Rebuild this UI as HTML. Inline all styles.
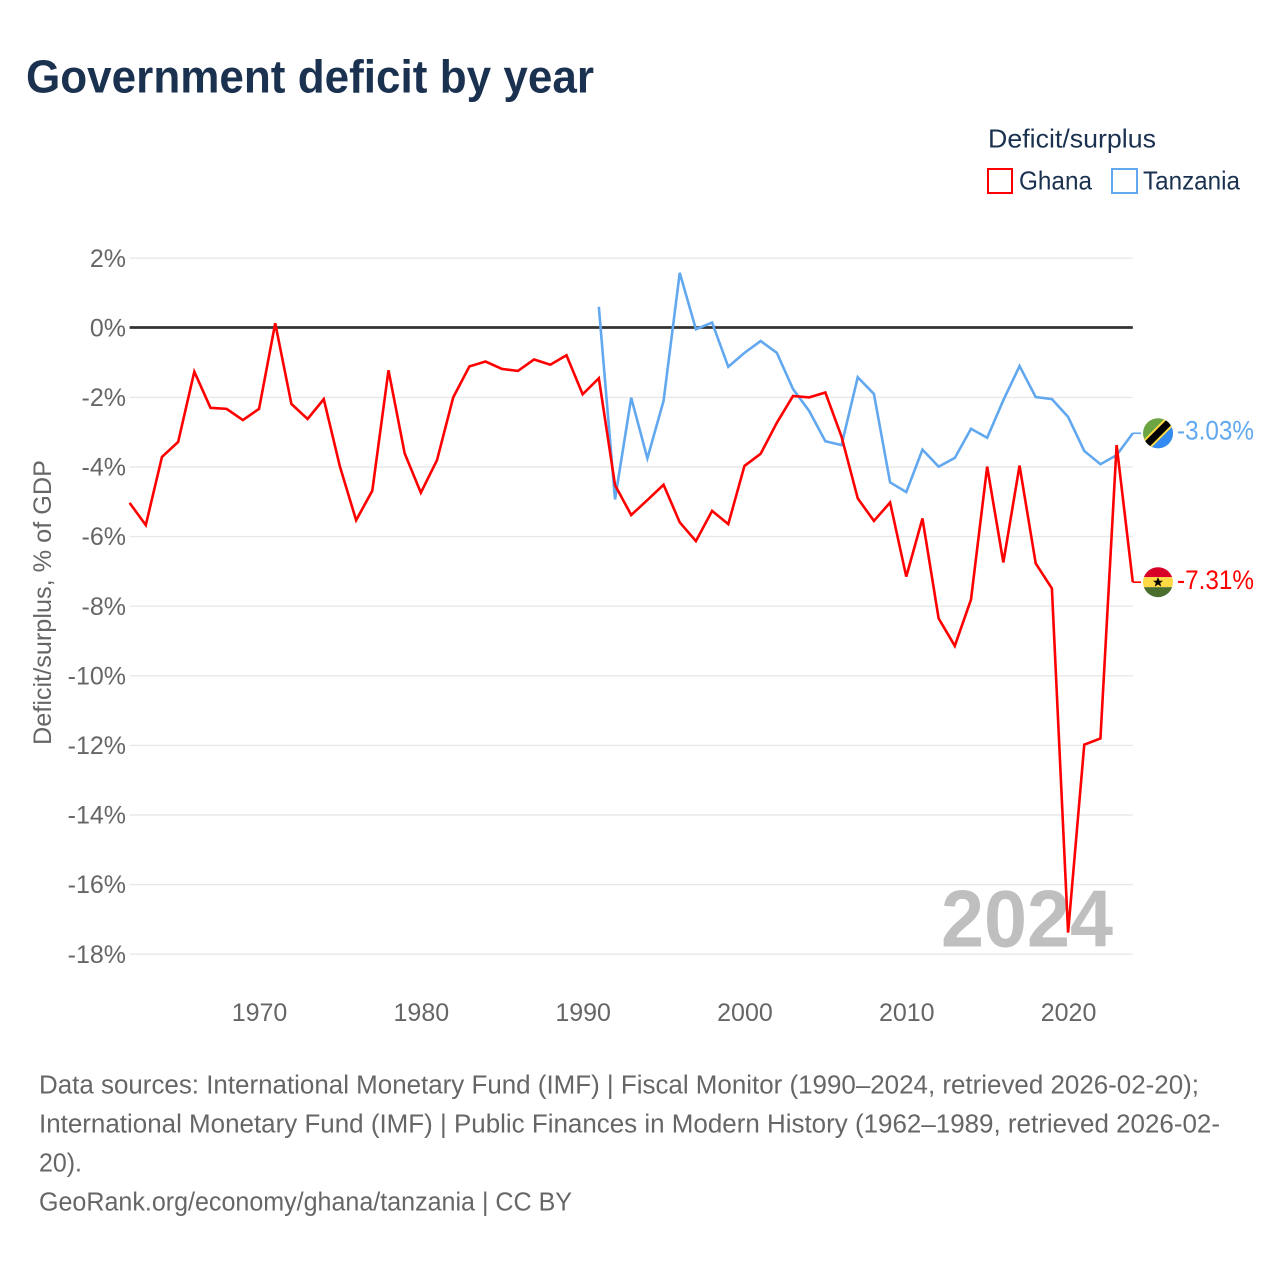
<!DOCTYPE html>
<html lang="en">
<head>
<meta charset="utf-8">
<title>Government deficit by year</title>
<style>
html,body{margin:0;padding:0;background:#fff;width:1280px;height:1280px;overflow:hidden}
svg{display:block;font-family:"Liberation Sans",sans-serif}
.tick{font-size:25px;fill:#666}
.foot{font-size:25.5px;fill:#666}
</style>
</head>
<body>
<svg id="chart" width="1280" height="1280" viewBox="0 0 1280 1280" xmlns="http://www.w3.org/2000/svg">
  <defs>
    <clipPath id="flag-clip"><circle cx="0" cy="0" r="15"/></clipPath>
  </defs>
  <rect x="0" y="0" width="1280" height="1280" fill="#fff"/>
  <text x="26" y="92.5" font-size="46" font-weight="700" fill="#1a3250" textLength="568" lengthAdjust="spacingAndGlyphs">Government deficit by year</text>

  <g>
    <text x="988" y="147.5" font-size="26" fill="#1a3250" textLength="168" lengthAdjust="spacingAndGlyphs">Deficit/surplus</text>
    <g>
      <rect x="988" y="169" width="24" height="24" fill="none" stroke="#ff0000" stroke-width="2"/>
      <text x="1019" y="189.5" font-size="26" fill="#1a3250" textLength="73" lengthAdjust="spacingAndGlyphs">Ghana</text>
    </g>
    <g>
      <rect x="1112" y="169" width="25" height="24" fill="none" stroke="#62a8ef" stroke-width="2"/>
      <text x="1143" y="189.5" font-size="26" fill="#1a3250" textLength="97" lengthAdjust="spacingAndGlyphs">Tanzania</text>
    </g>
  </g>

  <text transform="translate(51,745) rotate(-90)" font-size="25" fill="#666" textLength="285" lengthAdjust="spacingAndGlyphs">Deficit/surplus, % of GDP</text>

  <g id="grid"></g>
  <g id="yticks"></g>
  <g id="xticks"></g>

  <text x="941" y="946.5" font-size="81" font-weight="700" fill="#bfbfbf" textLength="172" lengthAdjust="spacingAndGlyphs">2024</text>

  <g id="zero"></g>
  <g id="series"></g>

  <g id="flag-tanzania">
    <g clip-path="url(#flag-clip)">
      <rect x="-16" y="-16" width="32" height="32" fill="#6da544"/>
      <polygon points="16,-16 16,16 -16,16" fill="#338af3"/>
      <line x1="-16" y1="16" x2="16" y2="-16" stroke="#ffda44" stroke-width="11"/>
      <line x1="-16" y1="16" x2="16" y2="-16" stroke="#000" stroke-width="7"/>
    </g>
  </g>
  <g id="flag-ghana">
    <g clip-path="url(#flag-clip)">
      <rect x="-16" y="-16" width="32" height="11" fill="#d80027"/>
      <rect x="-16" y="-5" width="32" height="10" fill="#ffda44"/>
      <rect x="-16" y="5" width="32" height="11" fill="#496e2d"/>
      <polygon points="0,-5 1.5,-1.5 5,-1.5 2.2,0.8 3.2,4.4 0,2.2 -3.2,4.4 -2.2,0.8 -5,-1.5 -1.5,-1.5" fill="#000"/>
    </g>
  </g>
  <g id="endlabels"></g>

  <g>
    <text class="foot" x="39" y="1093.5" textLength="1160" lengthAdjust="spacingAndGlyphs">Data sources: International Monetary Fund (IMF) | Fiscal Monitor (1990–2024, retrieved 2026-02-20);</text>
    <text class="foot" x="39" y="1132.5" textLength="1181" lengthAdjust="spacingAndGlyphs">International Monetary Fund (IMF) | Public Finances in Modern History (1962–1989, retrieved 2026-02-</text>
    <text class="foot" x="39" y="1171.5" textLength="43" lengthAdjust="spacingAndGlyphs">20).</text>
    <text class="foot" x="39" y="1210.5" textLength="533" lengthAdjust="spacingAndGlyphs">GeoRank.org/economy/ghana/tanzania | CC BY</text>
  </g>
</svg>
<script>
const ghanaYears = [1962,1963,1964,1965,1966,1967,1968,1969,1970,1971,1972,1973,1974,1975,1976,1977,1978,1979,1980,1981,1982,1983,1984,1985,1986,1987,1988,1989,1990,1991,1992,1993,1994,1995,1996,1997,1998,1999,2000,2001,2002,2003,2004,2005,2006,2007,2008,2009,2010,2011,2012,2013,2014,2015,2016,2017,2018,2019,2020,2021,2022,2023,2024];
const ghanaValues = [-5.03,-5.67,-3.71,-3.28,-1.26,-2.30,-2.33,-2.65,-2.33,0.13,-2.19,-2.62,-2.05,-3.99,-5.53,-4.68,-1.22,-3.61,-4.74,-3.80,-2.00,-1.11,-0.97,-1.18,-1.24,-0.91,-1.06,-0.79,-1.91,-1.45,-4.52,-5.38,-4.95,-4.51,-5.59,-6.13,-5.26,-5.64,-3.97,-3.62,-2.73,-1.96,-2.00,-1.86,-3.13,-4.90,-5.55,-5.02,-7.15,-5.48,-8.35,-9.14,-7.81,-3.99,-6.74,-3.96,-6.77,-7.49,-17.38,-11.98,-11.80,-3.37,-7.31];
const tanzaniaYears = [1991,1992,1993,1994,1995,1996,1997,1998,1999,2000,2001,2002,2003,2004,2005,2006,2007,2008,2009,2010,2011,2012,2013,2014,2015,2016,2017,2018,2019,2020,2021,2022,2023,2024];
const tanzaniaValues = [0.60,-4.93,-2.01,-3.75,-2.10,1.58,-0.04,0.15,-1.12,-0.72,-0.38,-0.72,-1.76,-2.39,-3.26,-3.37,-1.42,-1.90,-4.44,-4.72,-3.50,-3.99,-3.74,-2.90,-3.16,-2.08,-1.10,-1.99,-2.05,-2.56,-3.54,-3.92,-3.66,-3.03];
const yTickValues = [2,0,-2,-4,-6,-8,-10,-12,-14,-16,-18];
const yTickLabels = ['2%','0%','-2%','-4%','-6%','-8%','-10%','-12%','-14%','-16%','-18%'];
const xTickValues = [1970,1980,1990,2000,2010,2020];
const xTickLabels = ['1970','1980','1990','2000','2010','2020'];

const NS = 'http://www.w3.org/2000/svg';
const plotLeft = 129.6, plotRight = 1132.8;
function xScale(year){ return plotLeft + (year - 1962) * (plotRight - plotLeft) / (2024 - 1962); }
function yScale(v){ return 327.8 - v * 34.8; }
function make(tag, attrs, parent){
  const el = document.createElementNS(NS, tag);
  for (const k in attrs) el.setAttribute(k, attrs[k]);
  parent.appendChild(el);
  return el;
}
function formatPct(v){ return v.toFixed(2) + '%'; }

const grid = document.getElementById('grid');
const yticks = document.getElementById('yticks');
const xticks = document.getElementById('xticks');
const zero = document.getElementById('zero');
const series = document.getElementById('series');
const endlabels = document.getElementById('endlabels');

yTickValues.forEach(function(v, i){
  const y = yScale(v);
  if (v !== 0) {
    const gl = make('line', {x1: plotLeft, x2: plotRight, y1: y, y2: y, stroke: '#e8e8e8', 'stroke-width': 1.4}, grid);
    
    
  } else {
    const zl = make('line', {x1: plotLeft, x2: plotRight, y1: y - 0.3, y2: y - 0.3, stroke: '#333', 'stroke-width': 2.8}, zero);
    
    
  }
  const t = make('text', {x: 126, y: y + 8.6, 'text-anchor': 'end', class: 'tick'}, yticks);
  
  
  t.textContent = yTickLabels[i];
});

xTickValues.forEach(function(year, i){
  const t = make('text', {x: xScale(year) + 0.5, y: 1021, 'text-anchor': 'middle', class: 'tick'}, xticks);
  
  
  t.textContent = xTickLabels[i];
});

function pathFor(years, values){
  return years.map(function(yr, i){
    return (i ? 'L' : 'M') + xScale(yr).toFixed(2) + ' ' + yScale(values[i]).toFixed(2);
  }).join(' ');
}

const tzPath = make('path', {d: pathFor(tanzaniaYears, tanzaniaValues), fill: 'none', stroke: '#62a8ef', 'stroke-width': 2.6, 'stroke-linejoin': 'miter'}, series);


const ghPath = make('path', {d: pathFor(ghanaYears, ghanaValues), fill: 'none', stroke: '#ff0000', 'stroke-width': 2.6, 'stroke-linejoin': 'miter'}, series);



const tzLast = tanzaniaValues[tanzaniaValues.length - 1];
const ghLast = ghanaValues[ghanaValues.length - 1];

const tzConn = make('line', {x1: plotRight, x2: 1141, y1: yScale(tzLast), y2: yScale(tzLast), stroke: '#62a8ef', 'stroke-width': 1.6}, series);


const ghConn = make('line', {x1: plotRight, x2: 1141, y1: yScale(ghLast), y2: yScale(ghLast), stroke: '#ff0000', 'stroke-width': 1.6}, series);



document.getElementById('flag-tanzania').setAttribute('transform', 'translate(1158,' + yScale(tzLast) + ')');
document.getElementById('flag-ghana').setAttribute('transform', 'translate(1158,' + yScale(ghLast) + ')');

const tzLabel = make('text', {x: 1177, y: yScale(tzLast) + 6.2, 'font-size': 26.5, fill: '#62a8ef', textLength: 77, lengthAdjust: 'spacingAndGlyphs'}, endlabels);


tzLabel.textContent = formatPct(tzLast);
const ghLabel = make('text', {x: 1177, y: yScale(ghLast) + 6.8, 'font-size': 26.5, fill: '#ff0000', textLength: 77, lengthAdjust: 'spacingAndGlyphs'}, endlabels);


ghLabel.textContent = formatPct(ghLast);
</script>
</body>
</html>
